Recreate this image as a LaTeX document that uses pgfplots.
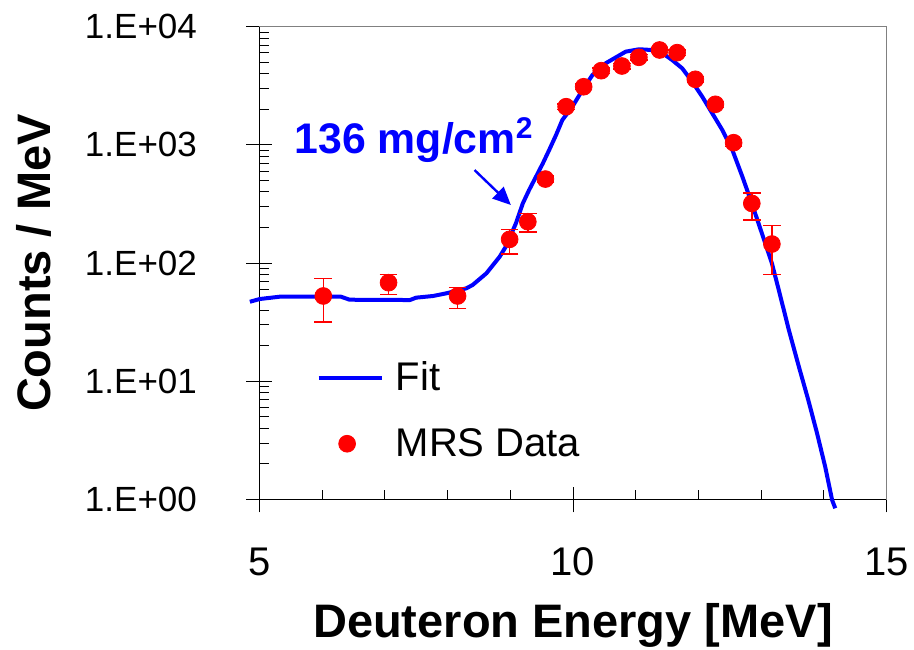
\documentclass[border=0pt]{standalone}
\usepackage{fontspec}
\setmainfont{Liberation Sans}
\usepackage{pgfplots}
\pgfplotsset{compat=1.18}
\usepackage{pgfplotstable}
\usetikzlibrary{arrows.meta}
\definecolor{fitblue}{RGB}{0,0,255}
\definecolor{datared}{RGB}{255,0,0}

\pgfplotsset{
  fitleg/.style={legend image code/.code={\draw[##1] (0pt,0pt) -- (31.65pt,0pt);}},
  dataleg/.style={legend image code/.code={\draw[mark repeat=2, mark phase=2, ##1] plot coordinates {(0pt,0pt) (14.2pt,0pt) (28.4pt,0pt)};}},
}

\pgfplotstableread{
x y
4.85 47.1
5.01 49.7
5.33 52
6.30 52
6.44 49
7.40 48.7
7.50 51
7.77 52.7
7.98 55.5
8.30 61.2
8.40 65.3
8.62 82
8.83 113
8.93 138
9.09 217
9.20 320
9.30 415
9.41 538
9.52 699
9.62 905
9.73 1213
9.83 1625
9.99 2104
10.15 2910
10.31 3900
10.52 4900
10.84 6150
11.05 6440
11.16 6400
11.37 6270
11.58 5226
11.74 4448
11.90 3428
12.06 2558
12.22 1849
12.38 1336
12.54 905
12.70 538
12.85 320
13.01 179
13.17 99.6
13.28 59.2
13.44 27.2
13.60 13.3
13.75 6.95
13.89 3.63
14.02 1.89
14.13 0.99
14.18 0.843
}\fitdata

\pgfplotstableread{
x y ep em
6.02 52.7 21.1 20.8
7.06 68.3 12.1 13.8
8.16 52.7 9.7 11.2
8.99 158.9 34 40
9.28 224 40 40
9.56 514 30 30
9.89 2104 120 120
10.17 3105 170 170
10.45 4245 230 230
10.78 4650 250 250
11.05 5508 300 300
11.38 6353 330 330
11.66 6030 320 320
11.95 3590 200 200
12.27 2205 130 130
12.56 1044 70 70
12.85 320 70 89
13.17 145 64 65
}\mrsdata

\begin{document}
\begin{tikzpicture}
\useasboundingbox (-129.65pt,-74.75pt) rectangle (327.35pt,249.75pt);
\begin{axis}[
  at={(0,0)}, anchor=south west,
  scale only axis, width=313.7pt, height=236.4pt,
  ymode=log, xmin=5, xmax=15, ymin=1, ymax=10000,
  axis x line*=bottom, axis y line*=left,
  axis line style={black, line width=0.6pt},
  clip=false,
  xtick={5,10,15}, xticklabels={5,10,15},
  minor x tick num=4,
  ytick={1,10,100,1000,10000},
  yticklabels={1.E+00,1.E+01,1.E+02,1.E+03,1.E+04},
  tick align=center,
  major tick length=13pt,
  minor tick length=4.75pt,
  minor x tick style={yshift=2.375pt},
  minor y tick style={xshift=2.375pt},
  tick style={black, line width=0.5pt},
  xticklabel style={font=\fontsize{20}{24}\selectfont, inner sep=0pt, anchor=base, yshift=-31.75pt},
  yticklabel style={font=\fontsize{17.5}{21}\selectfont, inner sep=0pt, anchor=east, xshift=-24.5pt},
  xlabel={Deuteron Energy [MeV]},
  ylabel={Counts / MeV},
  every axis x label/.style={at={(axis description cs:0.5,-0.2908)}, anchor=base,
    font=\fontsize{23.5}{28}\selectfont\bfseries, inner sep=0pt},
  every axis y label/.style={at={(axis description cs:-0.3599,0.5)}, rotate=90, anchor=center,
    font=\fontsize{23.5}{28}\selectfont\bfseries, inner sep=0pt},
  legend style={draw=none, fill=none, at={(axis description cs:0.0915,0.2915)}, anchor=north west,
    inner sep=0pt, outer sep=0pt, font=\fontsize{20}{24}\selectfont, nodes={inner sep=0pt},
    column sep=5.85pt, row sep=17.3pt},
  legend cell align=left,
]
\addplot[fitblue, line width=2pt, line join=round, fitleg]
  table[x=x,y=y] {\fitdata};
\addlegendentry{Fit}
\addplot[only marks, mark=*, mark size=4.2pt, color=datared, mark options={fill=datared, draw=datared},
  dataleg,
  error bars/.cd, y dir=both, y explicit,
  error bar style={datared, line width=0.75pt},
  error mark options={rotate=90, mark size=4.4pt, datared, line width=0.75pt}]
  table[x=x, y=y, y error plus=ep, y error minus=em] {\mrsdata};
\addlegendentry{MRS Data}
\draw[gray, line width=0.75pt] (rel axis cs:0,1) -- (rel axis cs:1,1) -- (rel axis cs:1,0);
\node[anchor=base west, inner sep=0pt, text=fitblue, font=\fontsize{21.4}{25}\selectfont\bfseries] at (axis cs:5.556,849) {136 mg/cm\textsuperscript{2}};
\draw[fitblue, line width=1.2pt, -{Triangle[length=9pt,width=8pt]}] (axis cs:8.43,613) -- (axis cs:9.01,310);
\end{axis}
\end{tikzpicture}
\end{document}
